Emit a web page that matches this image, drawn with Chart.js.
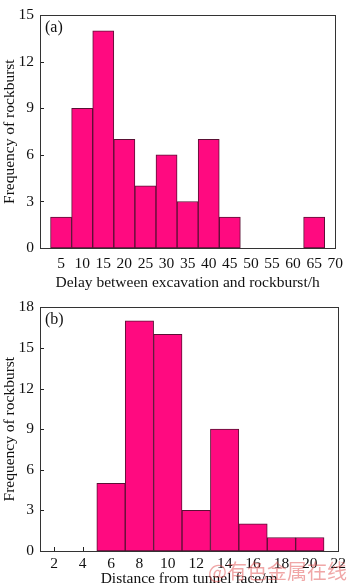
<!DOCTYPE html>
<html>
<head>
<meta charset="utf-8">
<script src="https://cdn.jsdelivr.net/npm/chart.js@4/dist/chart.umd.min.js"></script>
<style>
body{margin:0;background:#fff;width:350px;height:585px;overflow:hidden;position:relative;}
canvas{position:absolute;left:0;}
#wm{position:absolute;left:208px;top:556px;font:20px "Noto Sans CJK SC";color:rgba(225,80,80,0.5);white-space:nowrap;}
</style>
</head>
<body>
<canvas id="chartA" width="350" height="292" style="top:0"></canvas>
<canvas id="chartB" width="350" height="296" style="top:292px"></canvas>
<div id="wm">@有色金属在线</div>
<script>
// (a) delay between excavation and rockburst
const delayBins = [5,10,15,20,25,30,35,40,45,50,55,60,65];
const delayCounts = [2,9,14,7,4,6,3,7,2,0,0,0,2];
const delayTicks = [5,10,15,20,25,30,35,40,45,50,55,60,65,70];
const freqTicksA = [0,3,6,9,12,15];

// (b) distance from tunnel face
const distBins = [6,8,10,12,14,16,18,20];
const distCounts = [5,17,16,3,9,2,1,1];
const distTicks = [2,4,6,8,10,12,14,16,18,20,22];
const freqTicksB = [0,3,6,9,12,15,18];

const serif = "'Liberation Serif', 'DejaVu Serif', serif";
Chart.defaults.font.family = serif;
Chart.defaults.font.size = 15.5;
Chart.defaults.color = "#111";

// box + inward ticks
const framePlugin = {
  id:"frame",
  beforeDatasetsDraw(chart,args,opts){
    const ctx = chart.ctx, a = chart.chartArea;
    ctx.save();
    ctx.strokeStyle = "#222";
    ctx.lineWidth = 1;
    chart.scales.y.ticks.forEach(t=>{
      const y = Math.round(chart.scales.y.getPixelForValue(t.value))+0.5;
      ctx.beginPath(); ctx.moveTo(a.left,y); ctx.lineTo(a.left+4,y); ctx.stroke();
    });
    if(opts.xTicks){
      chart.scales.x.ticks.forEach(t=>{
        const x = Math.round(chart.scales.x.getPixelForValue(t.value))+0.5;
        ctx.beginPath(); ctx.moveTo(x,a.bottom); ctx.lineTo(x,a.bottom-4); ctx.stroke();
      });
    }
    ctx.restore();
  },
  afterDatasetsDraw(chart,args,opts){
    const ctx = chart.ctx, a = chart.chartArea;
    ctx.save();
    ctx.strokeStyle = "#333";
    ctx.lineWidth = 1;
    ctx.strokeRect(Math.round(a.left)+0.5, Math.round(a.top)+0.5, Math.round(a.right-a.left), Math.round(a.bottom-a.top));
    ctx.fillStyle = "#111";
    ctx.font = "16px " + serif;
    ctx.textBaseline = "middle";
    ctx.fillText(opts.tag, a.left+5, a.top+12);
    ctx.restore();
  }
};

function makeChart(id, bins, counts, xMin, xMax, xTicks, yMax, yTicks, xTitle, tag, o){
  new Chart(document.getElementById(id),{
    type:"bar",
    data:{datasets:[{
      data: bins.map((b,i)=>({x:b, y: counts[i] || null})),
      backgroundColor:"#ff0a80",
      borderColor:"#5a1034",
      borderWidth:1,
      borderSkipped:false,
      barPercentage:1,
      categoryPercentage:1
    }]},
    options:{
      responsive:false,
      animation:false,
      layout:{padding:{left:0,right:8,top:o.top,bottom:0}},
      plugins:{legend:{display:false},tooltip:{enabled:false},
        frame:{tag:tag, xTicks:o.xTickMarks}},
      scales:{
        x:{type:"linear",min:xMin,max:xMax,offset:false,
          grid:{display:false,drawTicks:false},border:{display:false},
          afterBuildTicks:s=>{s.ticks = xTicks.map(v=>({value:v}));},
          afterFit:s=>{s.height = o.xh;},
          ticks:{padding:o.tp,maxRotation:0,autoSkip:false},
          title:{display:true,text:xTitle,padding:{top:o.titlePad,bottom:0}}
        },
        y:{min:0,max:yMax,
          grid:{display:false,drawTicks:false},border:{display:false},
          afterBuildTicks:s=>{s.ticks = yTicks.map(v=>({value:v}));},
          afterFit:s=>{s.width = 40;},
          ticks:{padding:6},
          title:{display:true,text:"Frequency of rockburst",padding:{top:1,bottom:0}}
        }
      }
    },
    plugins:[framePlugin]
  });
}

makeChart("chartA", delayBins, delayCounts, 0, 70, delayTicks, 15, freqTicksA,
  "Delay between excavation and rockburst/h", "(a)",
  {top:5, xh:44, tp:7, titlePad:2, xTickMarks:false});
makeChart("chartB", distBins, distCounts, 1, 22, distTicks, 18, freqTicksB,
  "Distance from tunnel face/m", "(b)",
  {top:14, xh:37, tp:4, titlePad:0, xTickMarks:true});
</script>
</body>
</html>
